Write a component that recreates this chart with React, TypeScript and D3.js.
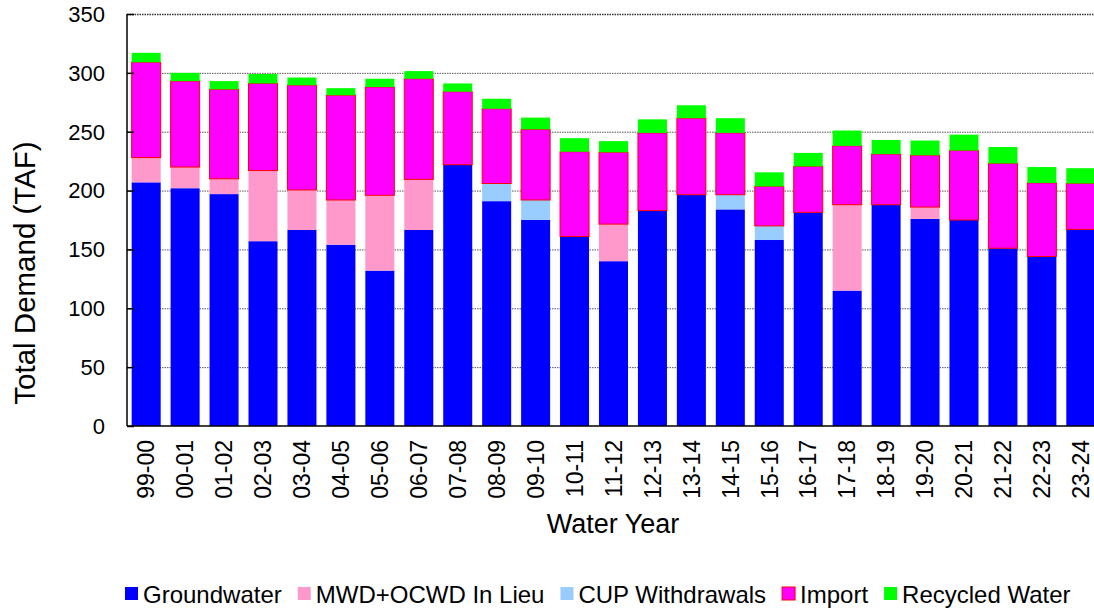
import React, { useEffect, useRef } from 'react';
import * as d3 from 'd3';

const years = ["99-00", "00-01", "01-02", "02-03", "03-04", "04-05", "05-06", "06-07", "07-08", "08-09",
    "09-10", "10-11", "11-12", "12-13", "13-14", "14-15", "15-16", "16-17", "17-18", "18-19",
    "19-20", "20-21", "21-22", "22-23", "23-24"];

const groundwater = [207, 202, 197, 157, 166.5, 154, 132, 166.5, 222, 191, 175, 161, 140, 183, 196.5, 184, 158, 181.5, 115, 188, 176, 175, 151, 144, 167];
const mwdInLieu = [21, 18, 13, 60, 34, 38, 64, 43, 0, 0, 0, 0, 31.5, 0, 0, 0, 0, 0, 73, 0, 10, 0, 0, 0, 0];
const cupWithdrawals = [0, 0, 0, 0, 0, 0, 0, 0, 0, 15, 17, 0, 0, 0, 0, 12.5, 12, 0, 0, 0, 0, 0, 0, 0, 0];
const imported = [81, 73, 76, 74, 89, 89, 92, 85.5, 62, 63.5, 60, 72, 61, 66, 65, 52.5, 33.5, 39, 50, 43, 44, 59, 72, 62.5, 39];
const recycled = [8, 7, 7, 8, 6.5, 6, 7, 6.5, 7, 8.5, 10, 11.5, 9.5, 11.5, 11, 12.5, 12, 11.5, 13, 12, 12.5, 13.5, 14, 13.5, 13];

const seriesNames = ["Groundwater", "MWD+OCWD In Lieu", "CUP Withdrawals", "Import", "Recycled Water"];
const yTicks = [0, 50, 100, 150, 200, 250, 300, 350];

const App = () => {
    const svgRef = useRef(null);

    useEffect(() => {
        const svg = d3.select(svgRef.current);
        svg.selectAll("*").remove();

        const width = 1094;
        const height = 609;
        const marginLeft = 127;
        const plotRight = 1100;
        const plotTop = 14;
        const plotBottom = 426;
        const font = "'Liberation Sans', Arial, sans-serif";

        const fills = ["#0000ff", "#ff99cc", "#99ccff", "#ff00ff", "#00ff00"];
        const strokes = [null, null, null, "#ff0000", null];

        const rows = years.map((yr, i) => ({
            year: yr,
            s0: groundwater[i],
            s1: mwdInLieu[i],
            s2: cupWithdrawals[i],
            s3: imported[i],
            s4: recycled[i],
        }));
        const keys = ["s0", "s1", "s2", "s3", "s4"];
        const stacked = d3.stack().keys(keys)(rows);

        const x = d3.scaleBand()
            .domain(years)
            .range([marginLeft, plotRight])
            .paddingInner(0.255)
            .paddingOuter(0.12);
        const y = d3.scaleLinear([0, 350], [plotBottom, plotTop]);

        svg.attr("width", width)
            .attr("height", height)
            .attr("viewBox", [0, 0, width, height])
            .style("font-family", font);

        // gridlines
        svg.append("g")
            .selectAll("line")
            .data(yTicks.filter(d => d > 0))
            .join("line")
            .attr("x1", marginLeft)
            .attr("x2", plotRight)
            .attr("y1", d => y(d) + 0.5)
            .attr("y2", d => y(d) + 0.5)
            .attr("stroke", d => d === 350 ? "#333" : "#555")
            .attr("stroke-width", d => d === 350 ? 1.5 : 1)
            .attr("stroke-dasharray", "1.5,1");

        // bars
        stacked.forEach((layer, li) => {
            svg.append("g")
                .selectAll("rect")
                .data(layer.filter(d => d[1] - d[0] > 0))
                .join("rect")
                .attr("x", d => x(d.data.year))
                .attr("width", x.bandwidth())
                .attr("y", d => y(d[1]))
                .attr("height", d => y(d[0]) - y(d[1]))
                .attr("fill", fills[li])
                .attr("stroke", strokes[li] || "none")
                .attr("stroke-width", 1);
        });

        // y axis
        const yAxis = svg.append("g")
            .attr("transform", `translate(${marginLeft},0)`)
            .call(d3.axisRight(y).tickValues(yTicks).tickSize(7).tickFormat(""))
            .call(g => g.select(".domain").remove())
            .call(g => g.selectAll(".tick line").attr("stroke", "#000").attr("stroke-width", 1.5));
        yAxis.append("line")
            .attr("x1", 0).attr("x2", 0)
            .attr("y1", plotTop).attr("y2", plotBottom)
            .attr("stroke", "#000").attr("stroke-width", 1.5);

        svg.append("g")
            .selectAll("text")
            .data(yTicks)
            .join("text")
            .attr("x", 105)
            .attr("y", d => y(d))
            .attr("dy", "0.36em")
            .attr("text-anchor", "end")
            .attr("font-size", 22)
            .attr("fill", "#000")
            .text(d => d);

        // x axis
        svg.append("line")
            .attr("x1", marginLeft).attr("x2", plotRight)
            .attr("y1", plotBottom).attr("y2", plotBottom)
            .attr("stroke", "#000").attr("stroke-width", 1.5);

        svg.append("g")
            .selectAll("text")
            .data(years)
            .join("text")
            .attr("transform", d => `translate(${x(d) + x.bandwidth() / 2},440) rotate(-90)`)
            .attr("dy", "0.36em")
            .attr("text-anchor", "end")
            .attr("font-size", 23)
            .attr("fill", "#000")
            .text(d => d);

        // titles
        svg.append("text")
            .attr("transform", "translate(35,273) rotate(-90)")
            .attr("text-anchor", "middle")
            .attr("font-size", 29.5)
            .text("Total Demand (TAF)");

        svg.append("text")
            .attr("x", 613)
            .attr("y", 533)
            .attr("text-anchor", "middle")
            .attr("font-size", 27)
            .text("Water Year");

        // legend
        const legend = svg.append("g").attr("transform", "translate(125,594)");
        let cx = 0;
        seriesNames.forEach((name, i) => {
            const item = legend.append("g").attr("transform", `translate(${cx},0)`);
            item.append("rect")
                .attr("x", 0).attr("y", -7)
                .attr("width", 13).attr("height", 13)
                .attr("fill", fills[i])
                .attr("stroke", strokes[i] || "none");
            const t = item.append("text")
                .attr("x", 18)
                .attr("y", 0)
                .attr("dy", "0.36em")
                .attr("font-size", 24)
                .text(name);
            const w = t.node().getComputedTextLength();
            cx += 18 + w + 16;
        });
    }, []);

    return (
        <svg ref={svgRef} style={{ position: "absolute", left: 0, top: 0, overflow: "hidden" }} />
    );
};

export default App;
